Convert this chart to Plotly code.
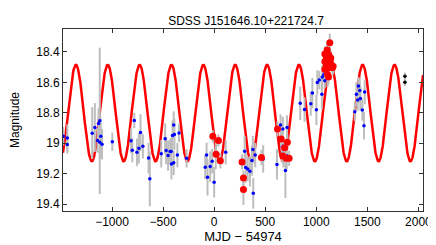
import numpy as np
import plotly.graph_objects as go

# ---- data (MJD - 54974, magnitude, error) ----
blue_t = [-1477, -1438, -1438,
          -1194, -1168, -1142, -1132, -1120, -1110, -1120, -1098,
          -997,
          -814, -801, -782, -756, -737, -721, -698, -642, -630,
          -518, -480, -470, -451, -431, -421, -408, -396, -389, -418, -396, -360, -344, -270,
          -87, -65, -74, -39, -19, 0, 16, 113,
          299, 309, 328, 350, 370, 379, 402, 383, 480,
          615, 650, 673, 663, 679, 698, 711, 714,
          843, 885, 946, 962, 1001, 1010, 1030, 1055, 1059, 1075, 1084, 1091, 1110,
          1377, 1393, 1406, 1413, 1426, 1432, 1451, 1467, 1474]
blue_m = [18.954, 18.966, 19.008,
          18.934, 18.897, 18.982, 18.871, 18.853, 18.954, 18.994, 19.006,
          18.990,
          18.984, 19.046, 18.851, 19.059, 19.033, 18.930, 19.020, 19.097, 19.234,
          19.069, 18.970, 19.048, 19.081, 19.054, 19.054, 18.950, 18.881, 18.942, 19.137, 19.129, 19.078, 18.933, 19.099,
          19.157, 19.224, 19.077, 19.153, 19.119, 19.256, 19.069, 19.059,
          19.052, 19.159, 19.169, 19.184, 19.113, 19.042, 19.078, 19.329, 19.103,
          19.139, 18.881, 18.907, 19.018, 19.059, 19.179, 19.081, 18.897,
          18.738, 18.779, 18.740, 18.670, 18.781, 18.601, 18.585, 18.678, 18.565, 18.549, 18.589, 18.535, 18.581,
          18.793, 18.678, 18.716, 18.625, 18.654, 18.706, 18.782, 18.885, 18.664]
blue_e = [0.06, 0.09, 0.06,
          0.17, 0.16, 0.08, 0.10, 0.48, 0.12, 0.10, 0.10,
          0.06,
          0.08, 0.08, 0.05, 0.09, 0.10, 0.12, 0.08, 0.10, 0.18,
          0.09, 0.10, 0.09, 0.10, 0.08, 0.09, 0.10, 0.09, 0.10, 0.10, 0.08, 0.08, 0.06, 0.06,
          0.08, 0.12, 0.08, 0.10, 0.08, 0.10, 0.10, 0.08,
          0.10, 0.10, 0.08, 0.10, 0.10, 0.09, 0.08, 0.10, 0.09,
          0.10, 0.07, 0.08, 0.10, 0.10, 0.18, 0.09, 0.08,
          0.11, 0.08, 0.08, 0.10, 0.10, 0.08, 0.06, 0.10, 0.08, 0.05, 0.05, 0.06, 0.05,
          0.06, 0.08, 0.07, 0.06, 0.08, 0.08, 0.07, 0.09, 0.08]

red_t = [-13, 42, 19, 61,
         273, 287, 287, 463,
         620, 656, 717, 690, 673, 705, 734,
         1132, 1107, 1084, 1123, 1100, 1142, 1117, 1084, 1139, 1100, 1165, 1123, 1084, 1158, 1110, 1120]
red_m = [18.955, 18.982, 19.072, 19.115,
         19.123, 19.229, 19.304, 19.093,
         18.906, 18.972, 18.994, 19.030, 19.084, 19.099, 19.099,
         18.340, 18.388, 18.414, 18.420, 18.440, 18.440, 18.454, 18.464, 18.474, 18.489, 18.495, 18.505, 18.515, 18.505, 18.549, 18.565]
red_e = [0.04, 0.04, 0.05, 0.05,
         0.05, 0.05, 0.10, 0.05,
         0.05, 0.05, 0.05, 0.05, 0.05, 0.05, 0.05,
         0.06, 0.05, 0.05, 0.05, 0.05, 0.05, 0.05, 0.05, 0.05, 0.05, 0.05, 0.05, 0.05, 0.05, 0.05, 0.05]

black_t = [1868, 1868]
black_m = [18.561, 18.599]
black_e = [0.025, 0.025]

# sinusoidal model parameters
model_mean = 18.802
model_amp = 0.317
model_period = 312.0
model_t0 = -1354.0   # epoch of brightest phase

x_ticks = [-1000, -500, 0, 500, 1000, 1500, 2000]
y_ticks = [18.4, 18.6, 18.8, 19.0, 19.2, 19.4]
y_ticklabels = ["18.4", "18.6", "18.8", "19", "19.2", "19.4"]

x_range = [-1480, 2045]
y_range = [19.445, 18.25]

model_t = np.linspace(x_range[0], x_range[1], 2000)
model_m = model_mean - model_amp * np.cos(2 * np.pi * (model_t - model_t0) / model_period)

fig = go.Figure()
fig.add_trace(go.Scatter(x=model_t, y=model_m, mode="lines",
                         line=dict(color="#ff0000", width=2.5), hoverinfo="skip"))

err_style = dict(type="data", thickness=2, width=0, color="#bdbdbd")

fig.add_trace(go.Scatter(x=blue_t, y=blue_m, mode="markers",
                         marker=dict(color="#0000ff", size=3.5, symbol="circle"),
                         error_y=dict(array=blue_e, **err_style)))
fig.add_trace(go.Scatter(x=red_t, y=red_m, mode="markers",
                         marker=dict(color="#ff0000", size=7, symbol="circle"),
                         error_y=dict(array=red_e, **err_style)))
fig.add_trace(go.Scatter(x=black_t, y=black_m, mode="markers",
                         marker=dict(color="#000000", size=3.5, symbol="circle"),
                         error_y=dict(array=black_e, **err_style)))

font_family = "Liberation Sans, Arial, sans-serif"
axis_common = dict(showgrid=False, zeroline=False, showline=True, linecolor="#333333",
                   linewidth=1, mirror="ticks", ticks="inside", ticklen=4,
                   tickcolor="#333333",
                   tickfont=dict(family=font_family, size=12, color="#000000"))

fig.update_layout(
    width=436, height=245,
    margin=dict(l=55, r=15, t=21, b=26),
    paper_bgcolor="white", plot_bgcolor="white",
    showlegend=False,
    title=dict(text="SDSS J151646.10+221724.7", x=0.546, xanchor="center", y=0.965, yanchor="top",
               font=dict(family=font_family, size=12, color="#000000")),
    xaxis=dict(range=x_range, tickvals=x_ticks,
               title=dict(text="MJD − 54974", standoff=2,
                          font=dict(family=font_family, size=13, color="#000000")),
               **axis_common),
    yaxis=dict(range=y_range, tickvals=y_ticks, ticktext=y_ticklabels, automargin=False,
               title=dict(text="Magnitude",
                          font=dict(family=font_family, size=12, color="#000000")),
               **axis_common),
)

fig.write_html("out.html")
